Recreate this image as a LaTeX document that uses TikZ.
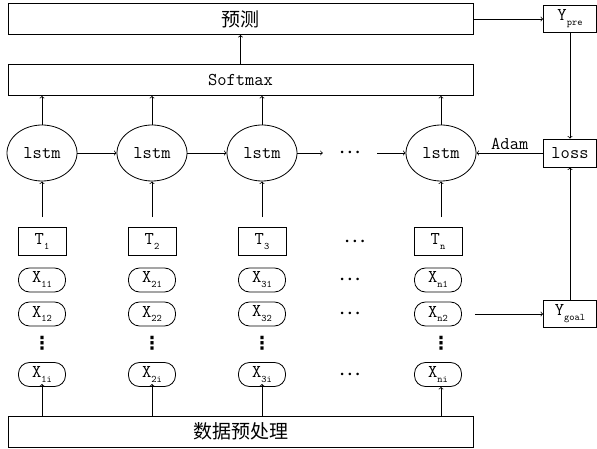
\documentclass[tikz,border=0pt]{standalone}
\usepackage{fontspec}
\newfontfamily\cjk{Noto Sans CJK SC}
\newfontfamily\symfont{DejaVu Sans}
\usetikzlibrary{shapes.geometric}
\newcommand{\lowsub}[1]{\raisebox{-5pt}{\fontsize{10}{10}\selectfont #1}}
\newcommand{\hdotrow}{\textbullet\hspace{0.6pt}\textbullet\hspace{0.6pt}\textbullet}
\tikzset{
	widebox/.style={draw,line width=0.8pt,minimum width=465pt,minimum height=31pt,inner sep=0pt,font=\fontsize{18}{20}\selectfont\ttfamily},
	cell/.style={draw,ellipse,line width=0.8pt,minimum width=70pt,minimum height=56pt,inner sep=0pt,font=\fontsize{18}{20}\selectfont\ttfamily},
	tbox/.style={draw,line width=0.8pt,minimum width=48pt,minimum height=28pt,inner sep=0pt,font=\fontsize{18}{20}\selectfont\ttfamily},
	xpill/.style={draw,line width=0.8pt,rounded corners=11pt,minimum width=47pt,minimum height=24pt,inner sep=0pt,font=\fontsize{18}{20}\selectfont\ttfamily},
	ybox/.style={draw,line width=0.8pt,minimum width=53pt,minimum height=27pt,inner sep=0pt,font=\fontsize{18}{20}\selectfont\ttfamily},
	dotsnode/.style={inner sep=0pt,font=\fontsize{9}{9}\selectfont},
	vdotsnode/.style={inner sep=0pt,font=\fontsize{18}{18}\selectfont\symfont\bfseries},
	link/.style={->,line width=0.8pt}
}
\begin{document}
\begin{tikzpicture}[x=1pt,y=-1pt]
	\useasboundingbox (0,0) rectangle (597,449);
	% wide boxes
	\node[widebox] (pred) at (240.5,19) {\fontsize{19}{20}\selectfont\cjk 预测};
	\node[widebox] (soft) at (240.5,80) {Softmax};
	\node[widebox] (prep) at (240.5,431.5) {\fontsize{19}{20}\selectfont\cjk 数据预处理};
	% lstm chain
	\node[cell] (l1) at (42,153) {lstm};
	\node[cell] (l2) at (152,153) {lstm};
	\node[cell] (l3) at (262,153) {lstm};
	\node[dotsnode,minimum width=54pt] (hdots) at (350,153) {\hdotrow};
	\node[cell] (l4) at (441,153) {lstm};
	% time steps
	\node[tbox] (t1) at (42,241.5) {T\lowsub{1}};
	\node[tbox] (t2) at (152,241.5) {T\lowsub{2}};
	\node[tbox] (t3) at (262,241.5) {T\lowsub{3}};
	\node[dotsnode] (tdots) at (355,241.5) {\hdotrow};
	\node[tbox] (t4) at (438,241.5) {T\lowsub{n}};
	% inputs
	\node[xpill] (x11) at (42,280) {X\lowsub{11}};
	\node[xpill] (x12) at (42,314) {X\lowsub{12}};
	\node[vdotsnode] (v1) at (42,343) {⋮};
	\node[xpill] (x1i) at (42,374.5) {X\lowsub{1i}};
	\node[xpill] (x21) at (152,280) {X\lowsub{21}};
	\node[xpill] (x22) at (152,314) {X\lowsub{22}};
	\node[vdotsnode] (v2) at (152,343) {⋮};
	\node[xpill] (x2i) at (152,374.5) {X\lowsub{2i}};
	\node[xpill] (x31) at (262,280) {X\lowsub{31}};
	\node[xpill] (x32) at (262,314) {X\lowsub{32}};
	\node[vdotsnode] (v3) at (262,343) {⋮};
	\node[xpill] (x3i) at (262,374.5) {X\lowsub{3i}};
	\node[dotsnode] (d1) at (350,280) {\hdotrow};
	\node[dotsnode] (d2) at (350,314) {\hdotrow};
	\node[dotsnode] (d3) at (350,374.5) {\hdotrow};
	\node[xpill] (xn1) at (438,280) {X\lowsub{n1}};
	\node[xpill] (xn2) at (438,314) {X\lowsub{n2}};
	\node[vdotsnode] (v4) at (441,343) {⋮};
	\node[xpill] (xni) at (438,374.5) {X\lowsub{ni}};
	% outputs and loss
	\node[ybox] (ypre) at (570,19) {Y\lowsub{pre}};
	\node[ybox,minimum height=28pt] (loss) at (570,153) {loss};
	\node[ybox] (ygoal) at (570,314) {Y\lowsub{goal}};
	% connectors
	\draw[link] (soft.north) -- (pred.south);
	\draw[link] (l1.north) -- (l1.north |- soft.south);
	\draw[link] (l2.north) -- (l2.north |- soft.south);
	\draw[link] (l3.north) -- (l3.north |- soft.south);
	\draw[link] (l4.north) -- (l4.north |- soft.south);
	\draw[link] (l1) -- (l2);
	\draw[link] (l2) -- (l3);
	\draw[link] (l3) -- (hdots.west);
	\draw[link] (hdots.east) -- (l4);
	\draw[link,shorten <=10pt] (t1.north) -- (t1.north |- l1.south);
	\draw[link,shorten <=10pt] (t2.north) -- (t2.north |- l2.south);
	\draw[link,shorten <=10pt] (t3.north) -- (t3.north |- l3.south);
	\draw[link,shorten <=10pt] (l4.south |- t4.north) -- (l4.south);
	\draw[link,shorten >=-3pt] (x1i.south |- prep.north) -- (x1i.south);
	\draw[link,shorten >=-3pt] (x2i.south |- prep.north) -- (x2i.south);
	\draw[link,shorten >=-3pt] (x3i.south |- prep.north) -- (x3i.south);
	\draw[link] (l4.south |- prep.north) -- (l4.south |- xni.south);
	\draw[link] (pred.east |- ypre.west) -- (ypre.west);
	\draw[link] (ypre.south) -- (loss.north);
	\draw[link] (loss.west) -- node[above,font=\fontsize{18}{20}\selectfont\ttfamily] (adam) {Adam} (l4.east);
	\draw[link,shorten <=13pt] (xn2.east) -- (ygoal.west);
	\draw[link] (ygoal.north) -- (loss.south);
\end{tikzpicture}
\end{document}
